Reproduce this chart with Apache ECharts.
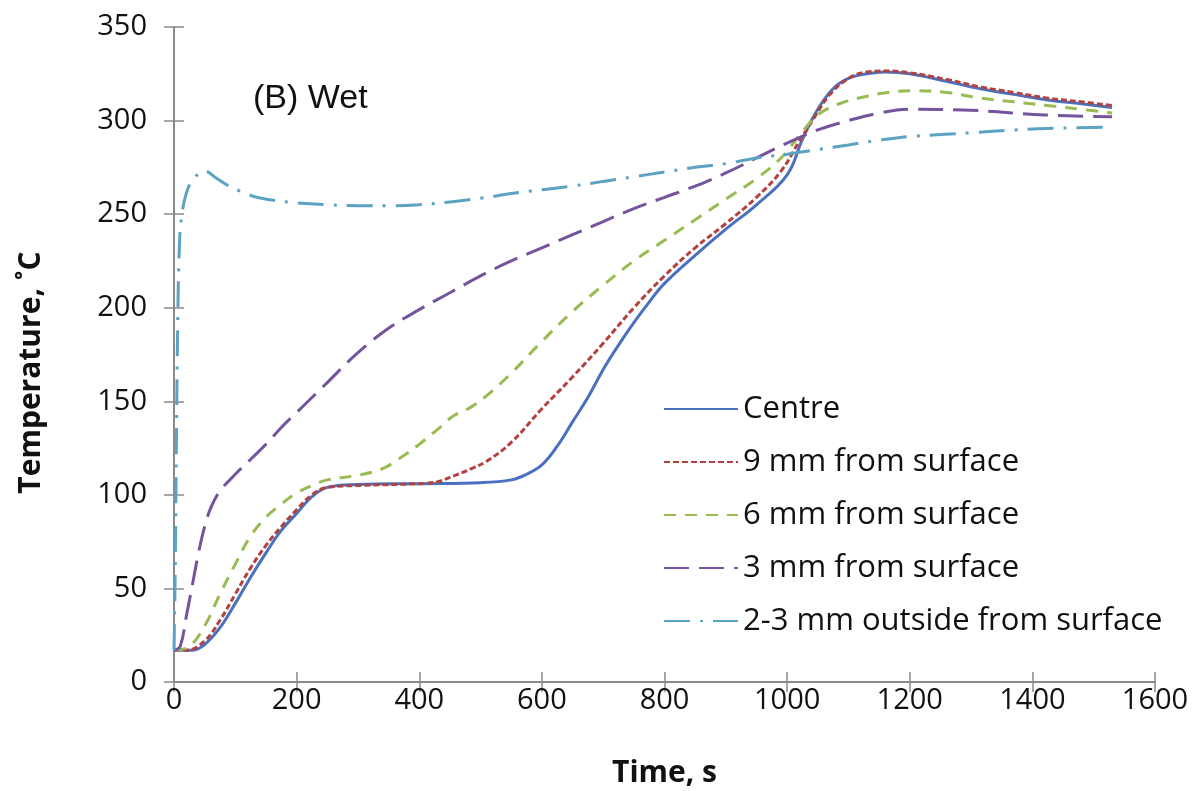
<!DOCTYPE html>
<html>
<head>
<meta charset="utf-8">
<script src="https://cdn.jsdelivr.net/npm/echarts@6/dist/echarts.min.js"></script>
<style>
  html, body { margin: 0; padding: 0; background: #fff; }
  #chart { width: 1199px; height: 791px; }
</style>
</head>
<body>
<div id="chart"></div>
<script>
// values (time in s, temperature in C)
const centreTime = [0, 30, 50, 75, 100, 125, 150, 175, 200, 225, 250, 300, 400, 500, 550, 575, 600, 625, 650, 675, 700, 725, 750, 775, 800, 850, 900, 950, 1000, 1025, 1050, 1075, 1100, 1130, 1160, 1200, 1260, 1315, 1370, 1425, 1480, 1530];
const centreTemp = [17, 17, 20, 29, 42, 56, 69, 81, 90, 99, 104, 105.5, 106, 106.5, 108, 111, 116, 126, 139, 152, 167, 180, 192, 203, 213, 228, 242, 255, 271, 290, 306, 317, 322.5, 325, 326, 325, 321, 317, 314, 311, 309, 307];

const mm9Time = [0, 20, 50, 75, 100, 125, 150, 175, 200, 225, 250, 300, 400, 430, 455, 485, 510, 550, 600, 650, 700, 750, 800, 850, 900, 950, 990, 1020, 1045, 1070, 1100, 1130, 1160, 1200, 1260, 1315, 1370, 1425, 1480, 1530];
const mm9Temp = [17, 17, 22, 33, 47, 61, 73, 83, 92, 100, 104, 105, 106, 107, 110, 114, 118, 128, 146, 163, 181, 200, 217, 232, 245, 259, 273, 289, 302, 314, 322.5, 326, 326.5, 325.5, 322, 318, 315, 312, 310, 308];

const mm6Time = [0, 25, 50, 75, 100, 125, 150, 175, 200, 225, 250, 300, 340, 375, 400, 430, 455, 485, 510, 550, 600, 650, 700, 750, 800, 850, 900, 950, 990, 1020, 1050, 1085, 1130, 1165, 1205, 1260, 1315, 1370, 1425, 1480, 1530];
const mm6Temp = [17, 19, 30, 47, 63, 78, 88, 95, 101, 105, 108, 110.5, 114, 121, 127, 135, 142, 147, 153, 165, 182, 198, 212, 225, 236, 247, 258, 269, 280, 292, 303, 309, 313, 315, 316, 315, 312, 310, 308, 306, 304];

const mm3Time = [0, 10, 20, 30, 40, 50, 60, 75, 100, 125, 150, 175, 200, 225, 250, 300, 350, 400, 450, 500, 550, 600, 650, 700, 750, 800, 850, 900, 950, 1000, 1050, 1100, 1150, 1200, 1300, 1420, 1530];
const mm3Temp = [17, 19, 35, 52, 69, 83, 93, 102, 111, 119, 127, 136, 144, 152, 160, 176, 189, 199, 208, 217, 225, 232, 239, 246, 253, 259, 265, 272, 280, 288, 295, 300, 304, 306, 305.5, 303, 302];

const outTime = [0, 2, 4, 6, 9, 13, 20, 30, 50, 70, 90, 110, 135, 160, 200, 250, 300, 350, 400, 450, 500, 550, 600, 650, 700, 750, 800, 850, 900, 950, 1000, 1050, 1100, 1150, 1200, 1250, 1300, 1370, 1450, 1530];
const outTemp = [17, 60, 130, 190, 235, 250, 261, 268, 273, 269, 265, 262, 259, 257.5, 256, 255, 254.5, 254.5, 255, 256.5, 258.5, 261, 263, 265, 267.5, 270, 272.5, 275, 277, 280, 282, 284.5, 287, 289.5, 291.5, 292.5, 293.5, 295, 296, 296.5];

const seriesNames = ['Centre', '9 mm from surface', '6 mm from surface', '3 mm from surface', '2-3 mm outside from surface'];
const xTicks = { min: 0, max: 1600, interval: 200 };
const yTicks = { min: 0, max: 350, interval: 50 };

const zip = (xs, ys) => xs.map((x, i) => [x, ys[i]]);

const labelFont = 'Open Sans';
const axisGrey = '#8a8a8a';

const chart = echarts.init(document.getElementById('chart'));

function lineSeries(name, data, color, dash) {
  return {
    name: name,
    type: 'line',
    xAxisIndex: 0,
    yAxisIndex: 0,
    data: data,
    symbol: 'none',
    smooth: 0.4,
    lineStyle: { color: color, width: 3, type: dash },
    itemStyle: { color: color },
    z: 3
  };
}

const option = {
  animation: false,
  grid: { left: 174, right: 44, top: 27, bottom: 109, containLabel: false, outerBoundsMode: 'none' },
  graphic: [{
    type: 'text',
    left: 253,
    top: 82,
    style: { text: '(B) Wet', font: '34px "Liberation Sans"', fill: '#111' }
  }],
  legend: {
    orient: 'vertical',
    left: 658,
    top: 387,
    itemWidth: 74,
    itemHeight: 14,
    itemGap: 19,
    itemStyle: { opacity: 0 },
    data: seriesNames,
    textStyle: { fontFamily: labelFont, fontSize: 31, color: '#111', lineHeight: 34 }
  },
  xAxis: [{
    type: 'value',
    min: xTicks.min, max: xTicks.max, interval: xTicks.interval,
    name: 'Time, s',
    nameLocation: 'middle',
    nameGap: 76,
    nameTextStyle: { fontFamily: labelFont, fontWeight: 'bold', fontSize: 30, color: '#111' },
    axisLine: { lineStyle: { color: axisGrey, width: 2 } },
    axisTick: { length: 10, lineStyle: { color: axisGrey, width: 1.5 } },
    axisLabel: { margin: 4, fontFamily: labelFont, fontSize: 29, color: '#111', formatter: v => String(v) },
    splitLine: { show: false }
  }, {
    type: 'value',
    position: 'bottom',
    min: xTicks.min, max: xTicks.max, interval: xTicks.interval,
    axisLine: { show: false },
    axisTick: { inside: true, length: 10, lineStyle: { color: axisGrey, width: 1.5 } },
    axisLabel: { show: false },
    splitLine: { show: false }
  }],
  yAxis: [{
    type: 'value',
    min: yTicks.min, max: yTicks.max, interval: yTicks.interval,
    name: 'Temperature, \u02DAC',
    nameLocation: 'middle',
    nameGap: 128,
    nameRotate: 90,
    nameTextStyle: { fontFamily: labelFont, fontWeight: 'bold', fontSize: 30, color: '#111', padding: [0, 36, 0, 0] },
    axisLine: { show: true, lineStyle: { color: axisGrey, width: 2 } },
    axisTick: { show: true, length: 10, lineStyle: { color: axisGrey, width: 1.5 } },
    axisLabel: { margin: 27, fontFamily: labelFont, fontSize: 29, color: '#111' },
    splitLine: { show: false }
  }, {
    type: 'value',
    position: 'left',
    min: yTicks.min, max: yTicks.max, interval: yTicks.interval,
    axisLine: { show: false },
    axisTick: { show: true, inside: true, length: 10, lineStyle: { color: axisGrey, width: 1.5 } },
    axisLabel: { show: false },
    splitLine: { show: false }
  }],
  series: [
    lineSeries(seriesNames[0], zip(centreTime, centreTemp), '#4a70c0', 'solid'),
    lineSeries(seriesNames[1], zip(mm9Time, mm9Temp), '#b3423f', [6, 3]),
    lineSeries(seriesNames[2], zip(mm6Time, mm6Temp), '#98bb52', [12, 9]),
    lineSeries(seriesNames[3], zip(mm3Time, mm3Temp), '#74559d', [25, 10]),
    lineSeries(seriesNames[4], zip(outTime, outTemp), '#5ca2c2', [26, 10, 3, 10])
  ]
};

chart.setOption(option);
</script>
</body>
</html>
